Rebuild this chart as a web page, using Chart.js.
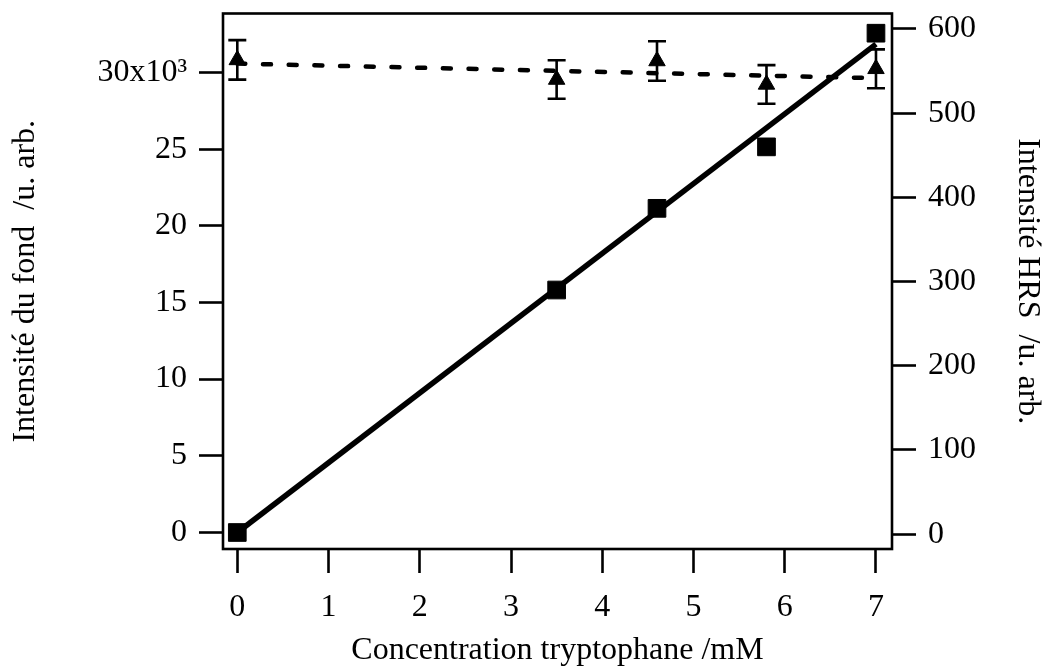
<!DOCTYPE html>
<html><head><meta charset="utf-8">
<script src="https://cdn.jsdelivr.net/npm/chart.js@4.4.1/dist/chart.umd.min.js"></script>
<style>html,body{margin:0;padding:0;background:#fff}#wrap{width:1042px;height:671px}</style>
</head><body><div id="wrap"><canvas id="c" width="1042" height="671"></canvas></div>
<script>
// ---- data ----
const concentrations = [0, 3.5, 4.6, 5.8, 7];
const hrsIntensity = [2, 290, 387, 460, 595];
const backgroundIntensity = [30840, 29560, 30770, 29240, 30260];
const backgroundError = [1290, 1260, 1290, 1260, 1270];
const hrsFitX = [0, 7];
const hrsFitY = [2, 582];
const bgFitX = [0, 7];
const bgFitY = [30600, 29650];
const xTicks = [0, 1, 2, 3, 4, 5, 6, 7];
const leftTicks = [0, 5000, 10000, 15000, 20000, 25000, 30000];
const rightTicks = [0, 100, 200, 300, 400, 500, 600];

const FONT = {family: '"Liberation Serif", "Times New Roman", serif', size: 32};
const toPts = (xs, ys) => xs.map((x, i) => ({x: x, y: ys[i]}));

const framePlugin = {
  id: 'frame',
  afterDraw(chart) {
    const {ctx, chartArea: a} = chart;
    ctx.save();
    ctx.strokeStyle = '#000';
    ctx.lineWidth = 2.6;
    ctx.strokeRect(a.left, a.top, a.right - a.left, a.bottom - a.top);
    ctx.restore();
  }
};

const errorBarPlugin = {
  id: 'errbars',
  afterDatasetsDraw(chart) {
    const ctx = chart.ctx;
    const xs = chart.scales.x, ys = chart.scales.yL;
    ctx.save();
    ctx.strokeStyle = '#000';
    ctx.lineWidth = 2.6;
    concentrations.forEach((c, i) => {
      const px = xs.getPixelForValue(c);
      const yTop = ys.getPixelForValue(backgroundIntensity[i] + backgroundError[i]);
      const yBot = ys.getPixelForValue(backgroundIntensity[i] - backgroundError[i]);
      ctx.beginPath();
      ctx.moveTo(px, yTop); ctx.lineTo(px, yBot);
      ctx.moveTo(px - 9, yTop); ctx.lineTo(px + 9, yTop);
      ctx.moveTo(px - 9, yBot); ctx.lineTo(px + 9, yBot);
      ctx.stroke();
    });
    ctx.restore();
  }
};

function axisCommon() {
  return {
    border: {display: false},
    grid: {drawOnChartArea: false, drawTicks: true, tickLength: 24, tickWidth: 2.6, tickColor: '#000'},
    ticks: {color: '#000', font: FONT, padding: 12, autoSkip: false, maxRotation: 0}
  };
}

const xAxis = axisCommon();
Object.assign(xAxis, {
  type: 'linear', position: 'bottom', min: -0.1567, max: 7.1756,
  afterBuildTicks: s => { s.ticks = xTicks.map(v => ({value: v})); },
  afterFit: s => { s.height = 122; s.paddingLeft = 0; s.paddingRight = 0; },
  title: {display: true, text: 'Concentration tryptophane /mM', color: '#000', font: FONT, padding: {top: 0, bottom: 1}}
});
xAxis.ticks.padding = 15;

const yLeft = axisCommon();
Object.assign(yLeft, {
  type: 'linear', position: 'left', min: -1097, max: 33871,
  afterBuildTicks: s => { s.ticks = leftTicks.map(v => ({value: v})); },
  afterFit: s => { s.width = 223; s.paddingTop = 0; s.paddingBottom = 0; },
  title: {display: true, text: 'Intensité du fond  /u. arb.', color: '#000', font: FONT, padding: {top: 6, bottom: 0}}
});
yLeft.ticks.callback = v => v === 30000 ? '30x10³' : String(v / 1000);

const yRight = axisCommon();
Object.assign(yRight, {
  type: 'linear', position: 'right', min: -17.6, max: 618.4,
  afterBuildTicks: s => { s.ticks = rightTicks.map(v => ({value: v})); },
  afterFit: s => { s.width = 150; s.paddingTop = 0; s.paddingBottom = 0; },
  title: {display: true, text: 'Intensité HRS  /u. arb.', color: '#000',
          font: Object.assign({}, FONT, {lineHeight: 0.9}), padding: {top: 0, bottom: 0}}
});

new Chart(document.getElementById('c'), {
  type: 'scatter',
  data: {
    datasets: [
      {
        label: 'fit fond', type: 'line', data: toPts(bgFitX, bgFitY), yAxisID: 'yL',
        borderColor: '#000', borderWidth: 4.5, borderDash: [8, 17.7], borderCapStyle: 'round',
        pointRadius: 0, fill: false
      },
      {
        label: 'fit HRS', type: 'line', data: toPts(hrsFitX, hrsFitY), yAxisID: 'yR',
        borderColor: '#000', borderWidth: 5.5, pointRadius: 0, fill: false
      },
      {
        label: 'Intensité du fond', data: toPts(concentrations, backgroundIntensity), yAxisID: 'yL',
        pointStyle: 'triangle', pointRadius: 9.5, backgroundColor: '#000', borderColor: '#000', borderWidth: 1
      },
      {
        label: 'Intensité HRS', data: toPts(concentrations, hrsIntensity), yAxisID: 'yR',
        pointStyle: 'rect', pointRadius: 12.5, backgroundColor: '#000', borderColor: '#000', borderWidth: 1
      }
    ]
  },
  options: {
    responsive: false, devicePixelRatio: 1, animation: false,
    layout: {padding: {top: 7, left: 0, right: 0, bottom: 0}},
    plugins: {legend: {display: false}, tooltip: {enabled: false}},
    scales: {x: xAxis, yL: yLeft, yR: yRight}
  },
  plugins: [framePlugin, errorBarPlugin]
});
</script></body></html>
